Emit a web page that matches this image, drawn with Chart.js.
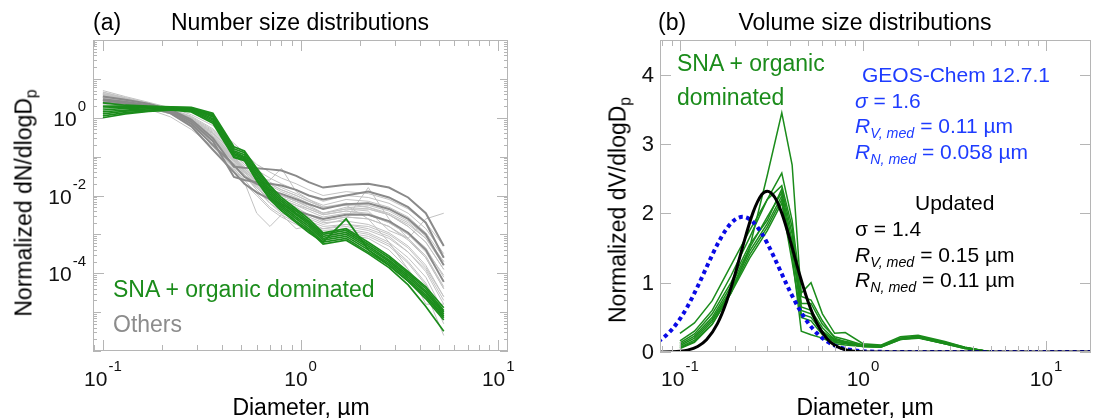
<!DOCTYPE html>
<html>
<head>
<meta charset="utf-8">
<script src="https://cdn.jsdelivr.net/npm/chart.js@4.4.0/dist/chart.umd.min.js"></script>
<style>
  body { margin: 0; width: 1093px; height: 418px; overflow: hidden; background: #fff;
         font-family: "Liberation Sans", Arial, Helvetica, sans-serif; position: relative; }
  canvas { position: absolute; top: 0; }
  .t { position: absolute; white-space: nowrap; line-height: 1; transform: translate(0, -50%); }
  .c { transform: translate(-50%, -50%); }
  .rot { transform: translate(-50%, -50%) rotate(-90deg); }
  .sub { font-size: 0.68em; position: relative; top: 0.32em; }
  .green { color: #1b8c1b; }
  .blue { color: #1e3cff; }
</style>
</head>
<body>
<canvas id="numberChart" width="545" height="418" style="left:0"></canvas>
<canvas id="volumeChart" width="548" height="418" style="left:545px"></canvas>

<div class="t" style="left:93px;top:22px;font-size:23px">(a)</div>
<div class="t c" style="left:300px;top:22px;font-size:23px">Number size distributions</div>
<div class="t rot" style="left:24px;top:203px;font-size:23px">Normalized dN/dlogD<span class="sub">p</span></div>
<div class="t c" style="left:301px;top:407px;font-size:23px">Diameter, µm</div>
<div class="t green" style="left:113px;top:289px;font-size:23px">SNA + organic dominated</div>
<div class="t" style="left:113px;top:324px;font-size:23px;color:#8c8c8c">Others</div>

<div class="t" style="left:658px;top:22px;font-size:23px">(b)</div>
<div class="t c" style="left:865px;top:22px;font-size:23px">Volume size distributions</div>
<div class="t rot" style="left:618px;top:210px;font-size:23px">Normalized dV/dlogD<span class="sub">p</span></div>
<div class="t c" style="left:865px;top:407px;font-size:23px">Diameter, µm</div>
<div class="t green" style="left:677px;top:63px;font-size:23px">SNA + organic</div>
<div class="t green" style="left:677px;top:97px;font-size:23px">dominated</div>
<div class="t blue" style="left:862px;top:74px;font-size:21px">GEOS-Chem 12.7.1</div>
<div class="t blue" style="left:855px;top:100px;font-size:21px"><i>σ</i> = 1.6</div>
<div class="t blue" style="left:855px;top:125px;font-size:21px"><i>R<span class="sub">V, med</span></i> = 0.11 µm</div>
<div class="t blue" style="left:855px;top:151px;font-size:21px"><i>R<span class="sub">N, med</span></i> = 0.058 µm</div>
<div class="t" style="left:915px;top:202px;font-size:21px">Updated</div>
<div class="t" style="left:855px;top:228px;font-size:21px">σ = 1.4</div>
<div class="t" style="left:855px;top:254px;font-size:21px"><i>R<span class="sub">V, med</span></i> = 0.15 µm</div>
<div class="t" style="left:855px;top:279px;font-size:21px"><i>R<span class="sub">N, med</span></i> = 0.11 µm</div>

<script>
// ---- panel (a): number size distributions ----
const sizeBinsN = [0.1, 0.13, 0.17, 0.22, 0.28, 0.36, 0.46, 0.52, 0.6, 0.7, 0.8, 0.95, 1.1, 1.3, 1.7, 2.2, 2.8, 3.5, 4.3, 5.3];

const snaNumber = [
    [2.4, 2.1, 2.0, 1.9, 1.85, 1.3, 0.18, 0.14, 0.05, 0.018, 8.9e-3, 4.5e-3, 2.5e-3, 1.1e-3, 1.4e-3, 6.3e-4, 2.8e-4, 1.1e-4, 4.5e-5, 1.3e-5],
    [2.0, 2.0, 1.9, 1.85, 1.8, 1.2, 0.16, 0.126, 0.045, 0.016, 7.9e-3, 4.0e-3, 2.2e-3, 1.0e-3, 1.26e-3, 5.6e-4, 2.5e-4, 1.0e-4, 4.0e-5, 1.1e-5],
    [1.78, 1.86, 1.86, 1.82, 1.78, 1.12, 0.141, 0.112, 0.04, 0.0141, 7.1e-3, 3.5e-3, 2.0e-3, 8.9e-4, 1.12e-3, 5.0e-4, 2.2e-4, 8.9e-5, 3.5e-5, 1.0e-5],
    [1.58, 1.74, 1.78, 1.78, 1.7, 1.05, 0.132, 0.1, 0.035, 0.0126, 6.3e-3, 3.2e-3, 1.8e-3, 7.9e-4, 1.0e-3, 4.5e-4, 2.0e-4, 7.9e-5, 3.2e-5, 8.9e-6],
    [1.41, 1.58, 1.7, 1.74, 1.66, 0.95, 0.12, 0.095, 0.032, 0.0112, 5.6e-3, 2.8e-3, 1.6e-3, 7.1e-4, 8.9e-4, 4.0e-4, 1.8e-4, 7.1e-5, 2.8e-5, 7.9e-6],
    [1.26, 1.48, 1.58, 1.66, 1.58, 0.87, 0.112, 0.089, 0.028, 0.01, 5.0e-3, 2.5e-3, 1.4e-3, 6.3e-4, 7.9e-4, 3.5e-4, 1.6e-4, 6.3e-5, 2.2e-5, 6.3e-6],
    [1.12, 1.35, 1.51, 1.62, 1.51, 0.79, 0.1, 0.083, 0.025, 8.9e-3, 4.5e-3, 2.2e-3, 1.26e-3, 5.6e-4, 7.1e-4, 3.2e-4, 1.4e-4, 5.0e-5, 1.4e-5, 3.2e-6],
    [1.0, 1.26, 1.45, 1.58, 1.41, 0.72, 0.095, 0.079, 0.024, 7.9e-3, 4.0e-3, 2.0e-3, 1.12e-3, 6.3e-4, 2.5e-3, 4.0e-4, 1.6e-4, 6.3e-5, 2.5e-5, 7.1e-6]
];

const othersDarkNumber = [
    [3.5, 2.9, 2.3, 1.6, 0.9, 0.3, 0.055, 0.052, 0.05, 0.047, 0.044, 0.032, 0.022, 0.016, 0.019, 0.02, 0.016, 8.9e-3, 3.5e-3, 5e-4],
    [3.0, 2.6, 2.1, 1.5, 0.8, 0.25, 0.03, 0.025, 0.022, 0.02, 0.018, 0.014, 0.01, 7.9e-3, 0.01, 0.0126, 8.9e-3, 5e-3, 2e-3, 2.5e-4],
    [2.8, 2.4, 2.0, 1.4, 0.7, 0.2, 0.06, 0.03, 0.02, 0.014, 0.011, 8e-3, 6e-3, 4.5e-3, 6e-3, 6.3e-3, 4.5e-3, 2.5e-3, 1e-3, 1.6e-4],
    [2.5, 2.2, 1.9, 1.3, 0.6, 0.15, 0.04, 0.02, 0.012, 8e-3, 6e-3, 4e-3, 3.2e-3, 2.5e-3, 3.2e-3, 3.2e-3, 2.2e-3, 1.1e-3, 4e-4, 6e-5]
];

const othersNumber = [
    [5.0, 3.5, 2.5, 1.8, 1.2, 0.63, 0.22, 0.126, 0.063, 0.04, 0.028, 0.02, 0.014, 0.01, 0.0126, 0.0112, 7.9e-3, 4.5e-3, 2e-3, 5e-4],
    [4.5, 3.2, 2.3, 1.66, 1.1, 0.52, 0.16, 0.089, 0.045, 0.028, 0.02, 0.014, 0.01, 7.1e-3, 0.01, 8.9e-3, 6.3e-3, 3.5e-3, 1.4e-3, 3.2e-4],
    [4.2, 3.0, 2.24, 1.58, 1.0, 0.45, 0.126, 0.063, 0.032, 0.018, 0.0126, 8.9e-3, 6.3e-3, 4.5e-3, 6.3e-3, 5.6e-3, 4e-3, 2.2e-3, 8.9e-4, 2e-4],
    [4.0, 2.9, 2.1, 1.5, 0.93, 0.4, 0.112, 0.056, 0.025, 0.014, 0.01, 7.1e-3, 5e-3, 3.5e-3, 5e-3, 4.5e-3, 3.2e-3, 1.6e-3, 6.3e-4, 1.26e-4],
    [3.8, 2.8, 2.1, 1.48, 0.89, 0.35, 0.1, 0.05, 0.022, 0.0112, 7.9e-3, 5.6e-3, 4e-3, 2.8e-3, 3.5e-3, 3.2e-3, 2e-3, 1e-3, 3.5e-4, 6.3e-5],
    [3.6, 2.75, 2.0, 1.45, 0.83, 0.32, 0.089, 0.045, 0.02, 0.01, 7.1e-3, 5e-3, 3.2e-3, 2.2e-3, 2.8e-3, 2.5e-3, 1.6e-3, 7.1e-4, 2.5e-4, 4e-5],
    [3.5, 2.7, 2.0, 1.41, 0.79, 0.28, 0.079, 0.04, 0.018, 8.9e-3, 5.6e-3, 4e-3, 2.8e-3, 2e-3, 2.2e-3, 1.8e-3, 1.1e-3, 5e-4, 1.6e-4, 2.5e-5],
    [3.3, 2.6, 2.0, 1.38, 0.76, 0.25, 0.071, 0.035, 0.016, 7.9e-3, 5e-3, 3.2e-3, 2.2e-3, 1.6e-3, 1.8e-3, 1.4e-3, 8.9e-4, 3.5e-4, 1.1e-4, 1.6e-5],
    [3.2, 2.6, 1.95, 1.35, 0.71, 0.24, 0.063, 0.032, 0.014, 6.3e-3, 4e-3, 2.5e-3, 1.8e-3, 1.26e-3, 1.4e-3, 1.1e-3, 6.3e-4, 2.5e-4, 7.9e-5, 1e-5],
    [3.0, 2.5, 1.9, 1.32, 0.66, 0.2, 0.05, 0.025, 0.0112, 5e-3, 3.2e-3, 2e-3, 1.4e-3, 1e-3, 1.1e-3, 8.9e-4, 5e-4, 1.8e-4, 5e-5, 5e-6],
    [2.8, 2.24, 1.66, 1.05, 0.5, 0.18, 0.045, 0.02, 0.01, 4.5e-3, 2.8e-3, 1.8e-3, 1.26e-3, 8.9e-4, 1e-3, 7.9e-4, 4e-4, 1.26e-4, 3.2e-5, 2.5e-6],
    [4.0, 3.0, 2.2, 1.5, 0.95, 0.4, 0.126, 0.071, 0.032, 0.02, 0.014, 0.01, 7.1e-3, 5e-3, 5.6e-3, 2.5e-3, 6.3e-4, 1.26e-4, 1.6e-5, 1.6e-5],
    [3.5, 2.8, 2.1, 1.48, 0.89, 0.35, 0.1, 0.05, 0.025, 0.014, 0.01, 7.1e-3, 5e-3, 3.5e-3, 4.5e-3, 4e-3, 1.26e-3, 7.9e-4, 2.5e-3, 3.5e-3],
    [3.2, 2.5, 1.9, 1.35, 0.76, 0.28, 0.071, 0.035, 0.016, 7.9e-3, 5e-3, 3.5e-3, 2.5e-3, 1.8e-3, 2.5e-3, 0.016, 2.5e-3, 7.9e-4, 2.5e-4, 4e-5],
    [2.8, 2.3, 1.8, 1.26, 0.63, 0.2, 0.05, 0.022, 3.5e-3, 1.6e-3, 3.2e-3, 1.4e-3, 1.6e-3, 1.4e-3, 1.8e-3, 1.6e-3, 1e-3, 4.5e-4, 1.4e-4, 2.5e-5],
    [3.8, 2.9, 2.1, 1.5, 0.89, 0.38, 0.1, 0.04, 0.025, 0.025, 0.05, 0.0126, 7.9e-3, 5e-3, 6.3e-3, 5e-3, 3.2e-3, 1.6e-3, 6.3e-4, 1.26e-4],
    [4.2, 3.2, 2.3, 1.66, 1.05, 0.48, 0.14, 0.079, 0.04, 0.022, 0.016, 0.0112, 7.9e-3, 5.6e-3, 7.9e-3, 7.1e-3, 5e-3, 2.8e-3, 1.1e-3, 2.5e-4],
    [3.2, 2.5, 2.0, 1.45, 0.83, 0.33, 0.089, 0.045, 0.02, 0.0112, 7.9e-3, 5.6e-3, 4.5e-3, 3.2e-3, 4e-3, 3.5e-3, 2.2e-3, 1.1e-3, 4.5e-4, 7.9e-5],
    [2.5, 2.1, 1.74, 1.26, 0.71, 0.26, 0.079, 0.04, 0.016, 7.1e-3, 4.5e-3, 3.2e-3, 2e-3, 1.4e-3, 1.6e-3, 1.26e-3, 7.9e-4, 3.5e-4, 1.26e-4, 2e-5],
    [2.24, 2.0, 1.66, 1.32, 0.79, 0.32, 0.089, 0.05, 0.025, 0.0126, 8.9e-3, 6.3e-3, 4.5e-3, 3.2e-3, 4e-3, 3.2e-3, 2e-3, 1e-3, 4e-4, 8.9e-5],
    [4.6, 3.3, 2.4, 1.66, 1.0, 0.42, 0.12, 0.063, 0.035, 0.02, 0.014, 0.01, 7.1e-3, 5e-3, 5.6e-3, 5e-3, 3.5e-3, 2e-3, 7.9e-4, 1.6e-4],
    [3.3, 2.7, 2.0, 1.41, 0.79, 0.3, 0.079, 0.035, 0.014, 6.3e-3, 3.5e-3, 2.5e-3, 1.6e-3, 1.1e-3, 1.26e-3, 1e-3, 5.6e-4, 2e-4, 5.6e-5, 7.9e-6],
    [2.75, 2.3, 1.8, 1.35, 0.76, 0.28, 0.079, 0.045, 0.022, 0.014, 0.01, 7.1e-3, 5.6e-3, 3.5e-3, 4.5e-3, 4.5e-3, 3.2e-3, 1.8e-3, 7.9e-4, 2e-4],
    [4.0, 2.95, 2.1, 1.45, 0.83, 0.32, 0.083, 0.04, 0.018, 8.9e-3, 6.3e-3, 4.5e-3, 3.2e-3, 2.2e-3, 2.8e-3, 2.5e-3, 1.6e-3, 7.9e-4, 2.8e-4, 4.5e-5]
];

// ---- panel (b): volume size distributions ----
const sizeBinsV = [0.1, 0.12, 0.15, 0.19, 0.24, 0.3, 0.36, 0.41, 0.46, 0.52, 0.6, 0.7, 0.8, 1.0, 1.25, 1.6, 2.0, 2.8, 3.6, 5.0];

const snaVolume = [
    [0.06, 0.15, 0.4, 0.85, 1.5, 2.55, 3.45, 2.7, 0.8, 0.75, 0.45, 0.2, 0.15, 0.1, 0.09, 0.19, 0.21, 0.13, 0.06, 0.0],
    [0.27, 0.42, 0.74, 1.25, 1.75, 2.2, 2.58, 1.9, 0.85, 1.0, 0.55, 0.27, 0.28, 0.12, 0.1, 0.22, 0.24, 0.15, 0.07, 0.0],
    [0.16, 0.3, 0.6, 1.1, 1.65, 2.2, 2.4, 1.8, 0.7, 0.7, 0.4, 0.22, 0.18, 0.1, 0.09, 0.2, 0.23, 0.14, 0.07, 0.0],
    [0.13, 0.26, 0.55, 1.0, 1.55, 1.9, 2.35, 1.7, 0.65, 0.6, 0.35, 0.18, 0.15, 0.09, 0.08, 0.2, 0.22, 0.13, 0.06, 0.0],
    [0.11, 0.23, 0.5, 0.95, 1.5, 1.95, 2.3, 1.6, 0.6, 0.55, 0.3, 0.17, 0.14, 0.09, 0.08, 0.19, 0.22, 0.13, 0.06, 0.0],
    [0.09, 0.2, 0.47, 0.9, 1.45, 1.85, 2.25, 1.5, 0.55, 0.5, 0.28, 0.15, 0.13, 0.08, 0.08, 0.19, 0.21, 0.12, 0.06, 0.0],
    [0.07, 0.17, 0.44, 0.87, 1.4, 1.8, 2.2, 1.4, 0.3, 0.25, 0.2, 0.12, 0.1, 0.08, 0.07, 0.18, 0.21, 0.12, 0.05, 0.0],
    [0.05, 0.14, 0.4, 0.85, 1.35, 1.75, 2.15, 1.3, 0.5, 0.45, 0.25, 0.14, 0.12, 0.08, 0.07, 0.18, 0.2, 0.12, 0.05, 0.0]
];

const curveDiameters = [0.07, 0.08, 0.09, 0.1, 0.11, 0.125, 0.14, 0.16, 0.18, 0.2, 0.22, 0.25, 0.28, 0.3, 0.33, 0.36, 0.4, 0.45, 0.5, 0.56, 0.63, 0.7, 0.8, 0.9, 1.0, 1.2, 1.5, 2, 5, 10, 20];
const updatedVolume = [0.0002, 0.001, 0.004, 0.011, 0.027, 0.079, 0.179, 0.406, 0.733, 1.122, 1.517, 2.003, 2.272, 2.32, 2.229, 2.003, 1.61, 1.122, 0.733, 0.415, 0.204, 0.097, 0.033, 0.011, 0.004, 0.0005, 0, 0, 0, 0, 0];
const geosChemVolume = [0.1, 0.192, 0.32, 0.477, 0.657, 0.946, 1.228, 1.55, 1.78, 1.91, 1.95, 1.879, 1.709, 1.568, 1.344, 1.126, 0.868, 0.612, 0.424, 0.27, 0.159, 0.094, 0.045, 0.022, 0.011, 0.003, 0.0005, 0, 0, 0, 0];

// tick labels
const xDecades = [0.1, 1, 10];
const xDecadeLabels = ['-1', '0', '1'];
const numberDecades = [1e-6, 1e-5, 1e-4, 1e-3, 1e-2, 1e-1, 1, 10, 100];
const numberLabelled = [1, 1e-2, 1e-4];
const numberLabels = ['0', '-2', '-4'];
const volumeTicks = [0, 1, 2, 3, 4];

const snaColor = '#1b8c1b';
const FONT = '"Liberation Sans", Arial, Helvetica, sans-serif';

function lineSet(bins, values, color, width, order) {
    return {
        data: bins.map((d, i) => ({ x: d, y: values[i] })),
        borderColor: color,
        borderWidth: width,
        pointRadius: 0,
        fill: false,
        tension: 0,
        order: order
    };
}

// draw "10" with a raised exponent
function drawPower(ctx, exp, x, y, align) {
    ctx.font = '21px ' + FONT;
    const w10 = ctx.measureText('10').width;
    ctx.font = '15px ' + FONT;
    const wExp = ctx.measureText(exp).width;
    const total = w10 + wExp + 1;
    let left = align === 'center' ? x - total / 2 : x - total;
    ctx.textAlign = 'left';
    ctx.textBaseline = 'alphabetic';
    ctx.font = '21px ' + FONT;
    ctx.fillText('10', left, y);
    ctx.font = '15px ' + FONT;
    ctx.fillText(exp, left + w10 + 1, y - 15);
}

const axisFrame = {
    id: 'axisFrame',
    afterDraw(chart, args, opts) {
        const { ctx, chartArea: a, scales: { x, y } } = chart;
        ctx.save();
        ctx.strokeStyle = '#b5b5b5';
        ctx.lineWidth = 1;
        ctx.strokeRect(a.left + 0.5, a.top + 0.5, a.right - a.left - 1, a.bottom - a.top - 1);
        ctx.beginPath();
        opts.xTicks.forEach(t => {
            const px = Math.round(x.getPixelForValue(t.v)) + 0.5;
            ctx.moveTo(px, a.bottom); ctx.lineTo(px, a.bottom - t.len);
            ctx.moveTo(px, a.top); ctx.lineTo(px, a.top + t.len);
        });
        opts.yTicks.forEach(t => {
            const py = Math.round(y.getPixelForValue(t.v)) + 0.5;
            ctx.moveTo(a.left, py); ctx.lineTo(a.left + t.len, py);
            ctx.moveTo(a.right, py); ctx.lineTo(a.right - t.len, py);
        });
        ctx.stroke();

        ctx.fillStyle = '#111';
        xDecades.forEach((v, i) => {
            drawPower(ctx, xDecadeLabels[i], x.getPixelForValue(v), 386, 'center');
        });
        if (opts.logY) {
            numberLabelled.forEach((v, i) => {
                drawPower(ctx, numberLabels[i], a.left - 7, y.getPixelForValue(v) + 8, 'right');
            });
        } else {
            ctx.font = '22px ' + FONT;
            ctx.textAlign = 'right';
            ctx.textBaseline = 'middle';
            volumeTicks.forEach(v => ctx.fillText(String(v), a.left - 6, y.getPixelForValue(v) + 1));
        }
        ctx.restore();
    }
};

function logTicks(decades, majorLen, minorLen, lo, hi, longOnes) {
    const ticks = [];
    decades.forEach(d => {
        if (d >= lo && d <= hi) ticks.push({ v: d, len: longOnes && longOnes.includes(d) ? majorLen + 3 : majorLen });
        for (let m = 2; m <= 9; m++) {
            const v = d * m;
            if (v >= lo && v <= hi) ticks.push({ v: v, len: minorLen });
        }
    });
    return ticks;
}

// ---- number chart ----
const numberSets = [];
snaNumber.forEach(s => numberSets.push(lineSet(sizeBinsN, s, snaColor, 1.7, 0)));
othersDarkNumber.forEach(s => numberSets.push(lineSet(sizeBinsN, s, '#8a8a8a', 2, 1)));
othersNumber.forEach(s => numberSets.push(lineSet(sizeBinsN, s, '#c2c2c2', 1, 2)));

new Chart(document.getElementById('numberChart'), {
    type: 'line',
    data: { datasets: numberSets },
    options: {
        responsive: false,
        animation: false,
        events: [],
        layout: { padding: { left: 93, right: 37, top: 40, bottom: 67 } },
        plugins: {
            legend: { display: false },
            tooltip: { enabled: false },
            axisFrame: {
                logY: true,
                xTicks: logTicks([0.01, 0.1, 1, 10], 11, 6, 0.0891, 11.2),
                yTicks: logTicks(numberDecades, 8, 4, 1e-6, 100, numberLabelled)
            }
        },
        scales: {
            x: { type: 'logarithmic', min: 0.0891, max: 11.2, display: false },
            y: { type: 'logarithmic', min: 1e-6, max: 100, display: false }
        }
    },
    plugins: [axisFrame]
});

// ---- volume chart ----
const volumeSets = [
    {
        data: curveDiameters.map((d, i) => ({ x: d, y: updatedVolume[i] })),
        borderColor: '#000', borderWidth: 3, pointRadius: 0, fill: false,
        cubicInterpolationMode: 'monotone', order: 0
    },
    {
        data: curveDiameters.map((d, i) => ({ x: d, y: geosChemVolume[i] })),
        borderColor: '#0a0ae6', borderWidth: 4, borderDash: [4, 3.5], pointRadius: 0, fill: false,
        cubicInterpolationMode: 'monotone', order: 1
    }
];
snaVolume.forEach(s => volumeSets.push(lineSet(sizeBinsV, s, snaColor, 1.5, 2)));

new Chart(document.getElementById('volumeChart'), {
    type: 'line',
    data: { datasets: volumeSets },
    options: {
        responsive: false,
        animation: false,
        events: [],
        layout: { padding: { left: 115, right: 2, top: 40, bottom: 66 } },
        plugins: {
            legend: { display: false },
            tooltip: { enabled: false },
            axisFrame: {
                logY: false,
                xTicks: logTicks([0.01, 0.1, 1, 10], 11, 6, 0.0778, 17.6),
                yTicks: volumeTicks.map(v => ({ v: v, len: 11 }))
            }
        },
        scales: {
            x: { type: 'logarithmic', min: 0.0778, max: 17.6, display: false },
            y: { type: 'linear', min: 0, max: 4.5, display: false }
        }
    },
    plugins: [axisFrame]
});
</script>
</body>
</html>
